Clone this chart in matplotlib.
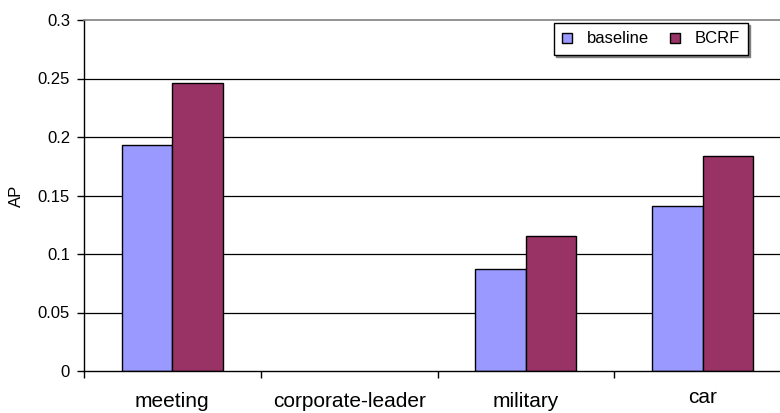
import numpy as np
import matplotlib
matplotlib.use("Agg")
import matplotlib.pyplot as plt
from matplotlib.transforms import offset_copy

# data
categories = ["meeting", "corporate-leader", "military", "car"]
baseline = [0.193, 0.0, 0.087, 0.141]
bcrf = [0.246, 0.0, 0.1155, 0.1835]
series_labels = ["baseline", "BCRF"]
yticks = [0, 0.05, 0.1, 0.15, 0.2, 0.25, 0.3]

plt.rcParams["font.family"] = ["Liberation Sans", "DejaVu Sans"]

fig = plt.figure(figsize=(7.8, 4.13), dpi=100)
# plot area runs a little past the right edge of the picture (as in the reference)
ax = fig.add_axes([84 / 780, 42 / 413, 707 / 780, 351 / 413])

x = np.arange(len(categories))
w = 0.286
b1 = ax.bar(x - w / 2, baseline, w, color="#9999FF", edgecolor="black", lw=1.0,
            label=series_labels[0], zorder=2)
b2 = ax.bar(x + w / 2, bcrf, w, color="#993366", edgecolor="black", lw=1.0,
            label=series_labels[1], zorder=2)
# empty bars leave no trace in the reference
for p in list(b1) + list(b2):
    if p.get_height() == 0:
        p.set_linewidth(0)

ax.set_xlim(-0.5, len(categories) - 0.5)
ax.set_ylim(0, 0.3)
ax.set_yticks(yticks)
ax.set_yticklabels([f"{v:g}" for v in yticks], fontsize=12)
for v in yticks[1:-1]:
    ax.axhline(v, color="black", lw=0.9, zorder=1)

# category labels centred, tick marks on boundaries
ax.set_xticks(x)
ax.set_xticklabels(categories, fontsize=15)
ax.tick_params(axis="x", which="major", length=0, pad=15)
ax.set_xticks(np.arange(len(categories) + 1) - 0.5, minor=True)
ax.tick_params(axis="x", which="minor", length=5, width=1, direction="out")
ax.tick_params(axis="y", length=5, width=1, direction="out", pad=5)
lab = ax.get_xticklabels()[-1]
lab.set_transform(offset_copy(lab.get_transform(), fig=fig, y=3, units="points"))

ax.set_ylabel("AP", fontsize=12, labelpad=10)

ax.spines["right"].set_visible(False)
ax.spines["top"].set_color("#808080")
ax.spines["top"].set_linewidth(1.2)
ax.spines["left"].set_linewidth(1.0)
ax.spines["bottom"].set_linewidth(1.0)
for sp in ax.spines.values():
    sp.set_zorder(3)

leg = ax.legend(ncol=2, loc="upper left", bbox_to_anchor=(0.665, 0.991),
                fontsize=12, frameon=True, fancybox=False,
                shadow={"ox": 1.5, "oy": -1.5, "color": "#808080", "alpha": 1},
                handlelength=0.55, handleheight=0.55, handletextpad=0.9,
                columnspacing=1.3, borderpad=0.5, borderaxespad=0)
leg.get_frame().set_edgecolor("black")
leg.get_frame().set_linewidth(1.0)

fig.savefig("out.png", dpi=100)
